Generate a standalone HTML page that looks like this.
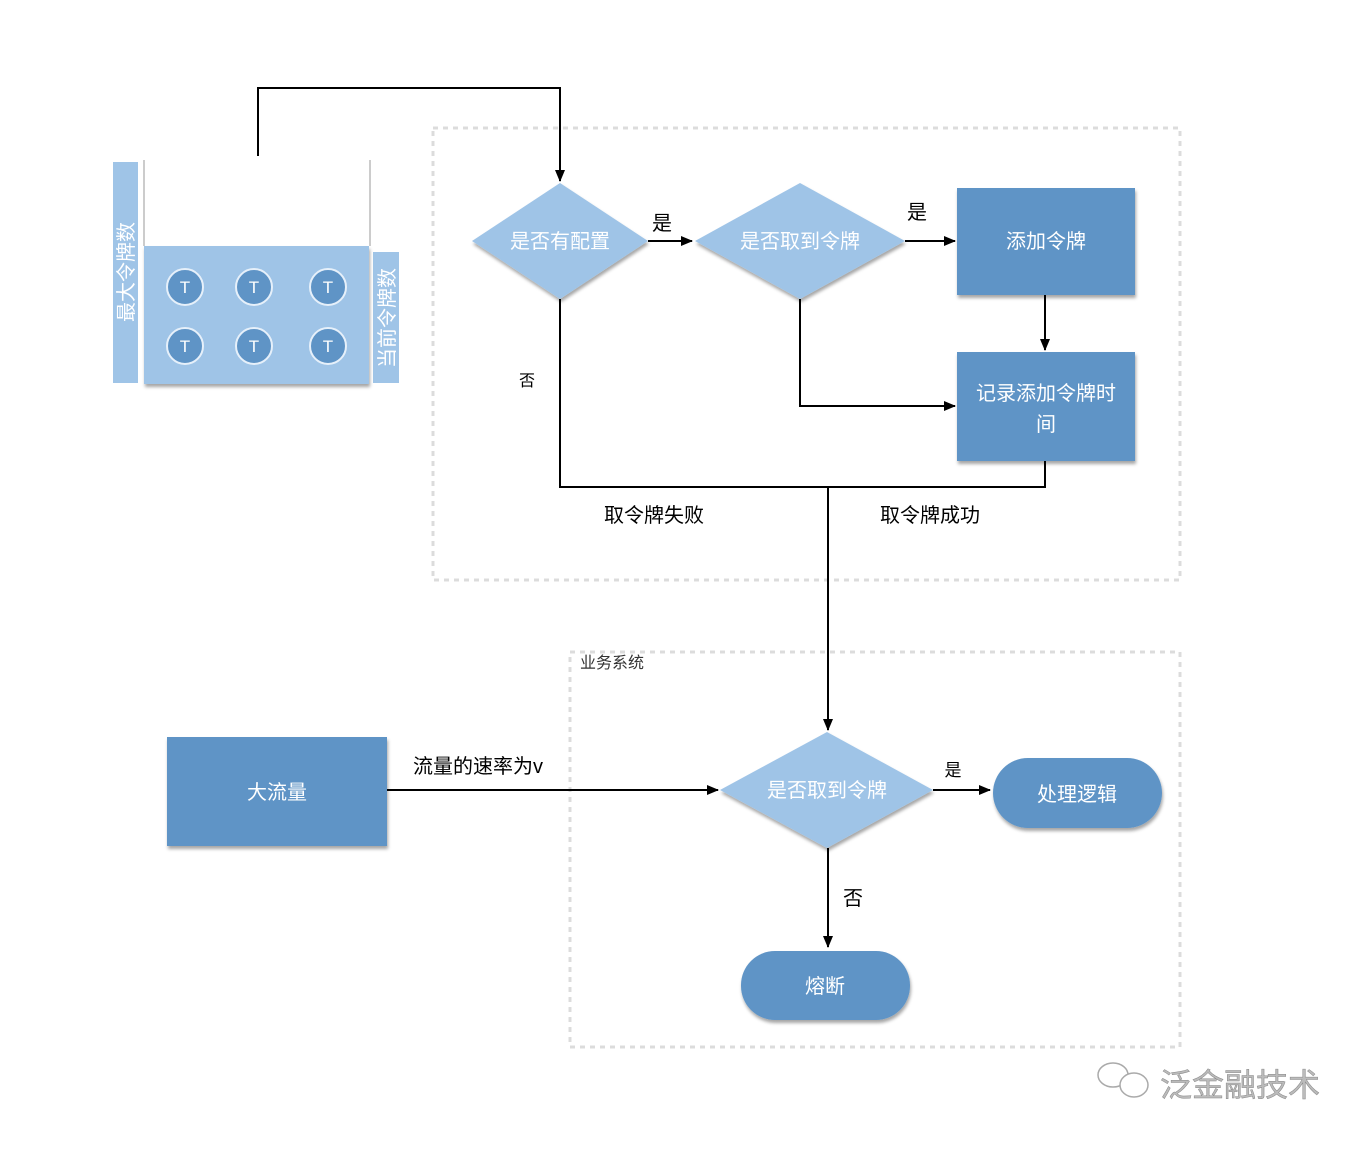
<!DOCTYPE html>
<html><head><meta charset="utf-8"><style>
html,body{margin:0;padding:0;background:#fff;}
svg text{font-family:"Liberation Sans","Noto Sans CJK SC",sans-serif;}
</style></head><body>
<svg width="1372" height="1144" viewBox="0 0 1372 1144" xmlns="http://www.w3.org/2000/svg">
<defs>
<marker id="a" markerWidth="12" markerHeight="10" refX="11" refY="5" orient="auto" markerUnits="userSpaceOnUse"><path d="M0,0 L12,5 L0,10 z" fill="#000"/></marker>
<filter id="s" x="-10%" y="-10%" width="130%" height="130%"><feDropShadow dx="1" dy="3" stdDeviation="1.5" flood-color="#000" flood-opacity="0.35"/></filter>
</defs>
<!-- dashed boxes -->
<rect x="433" y="128" width="747" height="452" fill="none" stroke="#dcdcdc" stroke-width="3" stroke-dasharray="5,5"/>
<rect x="570" y="652" width="610" height="395" fill="none" stroke="#dcdcdc" stroke-width="3" stroke-dasharray="5,5"/>
<text x="580" y="668" font-size="16" fill="#333">业务系统</text>

<!-- bucket -->
<rect x="113" y="162" width="25" height="221" fill="#9fc4e7"/>
<text transform="translate(133,272) rotate(-90)" font-size="20" fill="#fff" text-anchor="middle">最大令牌数</text>
<rect x="373" y="252" width="26" height="131" fill="#9fc4e7"/>
<text transform="translate(394,318) rotate(-90)" font-size="20" fill="#fff" text-anchor="middle">当前令牌数</text>
<rect x="144" y="246" width="225" height="138" fill="#9fc4e7" filter="url(#s)"/>
<line x1="144" y1="160" x2="144" y2="246" stroke="#ccc" stroke-width="2"/>
<line x1="370" y1="160" x2="370" y2="246" stroke="#ccc" stroke-width="2"/>
<g fill="#5f94c6" stroke="#e6f0fa" stroke-width="2">
<circle cx="185" cy="287" r="18"/><circle cx="254" cy="287" r="18"/><circle cx="328" cy="287" r="18"/>
<circle cx="185" cy="346" r="18"/><circle cx="254" cy="346" r="18"/><circle cx="328" cy="346" r="18"/>
</g>
<g fill="#fff" font-size="17" text-anchor="middle">
<text x="185" y="293">T</text><text x="254" y="293">T</text><text x="328" y="293">T</text>
<text x="185" y="352">T</text><text x="254" y="352">T</text><text x="328" y="352">T</text>
</g>

<!-- connectors -->
<g fill="none" stroke="#000" stroke-width="2">
<polyline points="258,156 258,88 560,88 560,181" marker-end="url(#a)"/>
<line x1="648" y1="241" x2="692" y2="241" marker-end="url(#a)"/>
<line x1="905" y1="241" x2="955" y2="241" marker-end="url(#a)"/>
<line x1="1045" y1="295" x2="1045" y2="350" marker-end="url(#a)"/>
<polyline points="800,299 800,406 955,406" marker-end="url(#a)"/>
<polyline points="560,299 560,487 1045,487 1045,461"/>
<line x1="828" y1="487" x2="828" y2="730" marker-end="url(#a)"/>
<line x1="387" y1="790" x2="718" y2="790" marker-end="url(#a)"/>
<line x1="933" y1="790" x2="990" y2="790" marker-end="url(#a)"/>
<line x1="828" y1="848" x2="828" y2="947" marker-end="url(#a)"/>
</g>

<!-- shapes -->
<g filter="url(#s)">
<polygon points="560,183 648,241 560,299 472,241" fill="#9fc4e7"/>
<polygon points="800,183 905,241 800,299 695,241" fill="#9fc4e7"/>
<rect x="957" y="188" width="178" height="107" fill="#5f94c6"/>
<rect x="957" y="352" width="178" height="109" fill="#5f94c6"/>
<polygon points="827,732 933,790 827,848 720,790" fill="#9fc4e7"/>
<rect x="167" y="737" width="220" height="109" fill="#5f94c6"/>
<rect x="993" y="758" width="169" height="70" rx="35" fill="#5f94c6"/>
<rect x="741" y="951" width="169" height="69" rx="34" fill="#5f94c6"/>
</g>

<g fill="#fff" font-size="20" text-anchor="middle">
<text x="560" y="248">是否有配置</text>
<text x="800" y="248">是否取到令牌</text>
<text x="1046" y="248">添加令牌</text>
<text x="1046" y="400">记录添加令牌时</text>
<text x="1046" y="431">间</text>
<text x="827" y="797">是否取到令牌</text>
<text x="277" y="799">大流量</text>
<text x="1077" y="801">处理逻辑</text>
<text x="825" y="993">熔断</text>
</g>

<g fill="#000" font-size="20" text-anchor="middle">
<text x="662" y="230">是</text>
<text x="917" y="219">是</text>
<text x="527" y="386" font-size="16">否</text>
<text x="654" y="522">取令牌失败</text>
<text x="930" y="522">取令牌成功</text>
<text x="478" y="773">流量的速率为v</text>
<text x="953" y="776" font-size="17">是</text>
<text x="853" y="905">否</text>
</g>

<!-- watermark -->
<g fill="none" stroke="#aaa" stroke-width="1.5">
<ellipse cx="1113" cy="1075" rx="15" ry="12"/>
<ellipse cx="1134" cy="1085" rx="14" ry="12" fill="#fff"/>
</g>
<text x="1160" y="1096" font-size="32" fill="#bbb" stroke="#888" stroke-width="0.5">泛金融技术</text>
</svg>
</body></html>
